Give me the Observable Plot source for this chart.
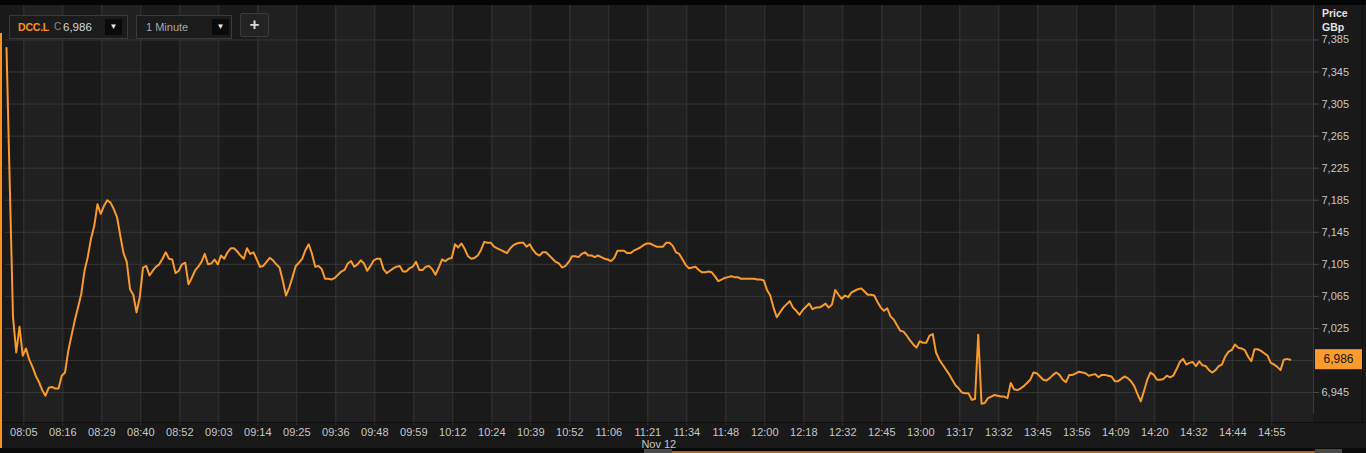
<!DOCTYPE html>
<html><head><meta charset="utf-8">
<script src="https://cdn.jsdelivr.net/npm/d3@7"></script>
<script src="https://cdn.jsdelivr.net/npm/@observablehq/plot@0.6"></script>
<style>
html,body{margin:0;padding:0;background:#0b0b0b;width:1366px;height:453px;overflow:hidden;}
#wrap{position:relative;width:1366px;height:453px;font-family:"Liberation Sans",Arial,sans-serif;}
#chart svg{display:block;}
.box{position:absolute;box-sizing:border-box;border:1px solid #3a3a3a;background:#1b1b1b;height:24px;top:15px;font-size:11px;line-height:22px;white-space:nowrap;}
.dd{position:absolute;top:3px;width:17px;height:16px;background:#0a0a0a;color:#e8e8e8;font-size:8px;line-height:16px;text-align:center;}
</style>
</head><body>
<div id="wrap">
  <div id="chart"></div>
  <div style="position:absolute;left:0;top:0;width:1366px;height:5px;background:#050505;"></div>
  <div style="position:absolute;left:0;top:33px;width:2px;height:420px;background:#f7931e;"></div>
  <div class="box" style="left:9px;width:119px;">
    <span style="position:absolute;left:8px;color:#f7931e;font-weight:bold;font-size:10.5px;letter-spacing:-0.2px;">DCC.L</span>
    <span style="position:absolute;left:44px;color:#8a8a8a;font-size:10px;">C</span>
    <span id="lastTxt" style="position:absolute;left:53px;color:#d6d6d6;font-size:11.5px;"></span>
    <div class="dd" style="left:95px;">&#9660;</div>
  </div>
  <div class="box" style="left:136px;width:96px;">
    <span style="position:absolute;left:9px;color:#a8a8a8;">1 Minute</span>
    <div class="dd" style="left:75px;">&#9660;</div>
  </div>
  <div class="box" style="left:240px;top:13px;width:29px;background:#232323;border-radius:2px;color:#d8d8d8;font-weight:bold;font-size:17px;text-align:center;line-height:21px;">+</div>
  <div style="position:absolute;left:1322px;top:6px;color:#e2e2e2;font-weight:bold;font-size:10.5px;line-height:14px;">Price<br>GBp</div>
  <div style="position:absolute;left:0;top:448px;width:1366px;height:5px;background:#0b0b0b;"></div>
  <div style="position:absolute;left:644px;top:449px;width:28px;height:4px;background:#4a4a4a;"></div>
  <div style="position:absolute;left:672px;top:451px;width:643px;height:2px;background:#a8651f;"></div>
  <div style="position:absolute;left:1315px;top:449px;width:27px;height:4px;background:#4a4a4a;"></div>
</div>
<script>
// ---- data ----
const timeLabels = ["08:05","08:16","08:29","08:40","08:52","09:03","09:14","09:25","09:36","09:48","09:59","10:12","10:24","10:39","10:52","11:06","11:21","11:34","11:48","12:00","12:18","12:32","12:45","13:00","13:17","13:32","13:45","13:56","14:09","14:20","14:32","14:44","14:55"];
const priceTicks = [6945,6985,7025,7065,7105,7145,7185,7225,7265,7305,7345,7385];
const dateLabel = "Nov 12";
const symbol = "DCC.L";
const prices = [
7375,7205,7039,6995,7027,6991,7000,6986,6977,6966,
6958,6948,6941,6951,6952,6950,6950,6966,6970,6997,
7016,7035,7051,7068,7097,7114,7137,7153,7180,7168,
7178,7185,7182,7174,7164,7141,7119,7108,7074,7067,
7045,7064,7101,7103,7091,7097,7102,7105,7112,7120,
7112,7111,7094,7097,7105,7107,7080,7088,7097,7102,
7108,7118,7105,7106,7111,7105,7116,7112,7120,7125,
7125,7121,7116,7112,7125,7118,7120,7111,7102,7103,
7108,7113,7110,7105,7101,7085,7066,7076,7089,7103,
7107,7112,7123,7130,7118,7102,7103,7099,7087,7087,
7086,7088,7092,7096,7098,7106,7109,7102,7105,7110,
7106,7097,7103,7110,7112,7112,7099,7094,7097,7100,
7102,7103,7096,7096,7100,7102,7108,7098,7098,7102,
7103,7099,7092,7101,7111,7109,7112,7113,7130,7126,
7131,7124,7115,7112,7113,7116,7123,7133,7132,7132,
7127,7125,7123,7121,7119,7125,7129,7131,7132,7132,
7127,7130,7123,7118,7116,7120,7120,7116,7112,7108,
7106,7101,7103,7108,7115,7115,7114,7118,7120,7116,
7116,7114,7116,7114,7112,7111,7109,7113,7122,7122,
7122,7119,7119,7122,7124,7126,7129,7131,7131,7129,
7127,7127,7127,7132,7132,7128,7120,7118,7111,7104,
7100,7101,7102,7098,7095,7095,7096,7095,7090,7084,
7086,7088,7089,7090,7089,7089,7087,7087,7087,7087,
7087,7086,7086,7085,7073,7066,7051,7039,7045,7051,
7055,7059,7051,7047,7042,7048,7052,7056,7049,7051,
7051,7053,7056,7051,7055,7073,7067,7062,7066,7064,
7070,7072,7074,7075,7071,7067,7067,7066,7058,7051,
7047,7050,7040,7036,7029,7022,7021,7016,7010,7005,
7001,7009,7007,7007,7016,7018,6995,6986,6980,6974,
6968,6961,6954,6950,6945,6944,6944,6936,6937,7017,
6931,6932,6938,6940,6942,6941,6940,6940,6938,6957,
6949,6948,6950,6953,6957,6961,6970,6969,6965,6961,
6960,6963,6967,6970,6967,6961,6958,6967,6967,6969,
6971,6970,6969,6966,6967,6968,6964,6967,6967,6966,
6965,6959,6959,6962,6965,6963,6959,6953,6943,6934,
6947,6961,6970,6967,6961,6961,6962,6966,6964,6966,
6974,6983,6987,6980,6982,6983,6978,6984,6979,6978,
6973,6970,6973,6978,6980,6990,6996,6998,7005,7001,
7000,6998,6990,6984,6999,6999,6997,6994,6991,6982,
6980,6977,6973,6986,6987,6986
];

const pointsPerTick = 12;
const firstTick = 5.32;
const tickIdx = timeLabels.map((_, k) => firstTick + pointsPerTick * k);
const labelOf = new Map(tickIdx.map((t, k) => [t, timeLabels[k]]));
const xDomain = [-0.31, 402.15];
const yDomain = [6907.6, 7428];
const rows = prices.map((v, i) => ({i, v}));
const last = prices[prices.length - 1];
const fmt = d3.format(",");
document.getElementById("lastTxt").textContent = fmt(last);
// labelled price ticks: the one hidden under the last-price tag is left unlabelled
const labelledTicks = priceTicks.filter(t => Math.abs(t - last) > 15);

const bounds = [xDomain[0], ...tickIdx, xDomain[1]];
const columns = d3.pairs(bounds).map(([a, b], k) => ({a, b, dark: k % 2 === 0}));

const chart = Plot.plot({
  width: 1366, height: 453,
  marginLeft: 5, marginRight: 53, marginTop: 5, marginBottom: 31,
  x: {domain: xDomain, axis: null},
  y: {domain: yDomain, axis: null},
  style: {background: "#191919", color: "#c6c6c6", fontFamily: "'Liberation Sans', Arial, sans-serif", fontSize: "11px"},
  marks: [
    Plot.rect(columns.filter(d => d.dark), {x1: "a", x2: "b", fill: "#1a1a1a"}),
    Plot.rect(columns.filter(d => !d.dark), {x1: "a", x2: "b", fill: "#202020"}),
    Plot.ruleX(tickIdx, {stroke: "#363636", strokeWidth: 1}),
    Plot.ruleY(priceTicks, {stroke: "#363636", strokeWidth: 1}),
    Plot.line(rows, {x: "i", y: "v", stroke: "#f89a2c", strokeWidth: 2, strokeLinejoin: "round"}),
    Plot.axisX({ticks: tickIdx, tickFormat: d => labelOf.get(d), tickSize: 3, tickPadding: 3, stroke: "#3a3a3a", fill: "#c6c6c6", label: null}),
    Plot.axisX({ticks: [tickIdx[16]], tickFormat: () => dateLabel, tickSize: 0, tickPadding: 18, dx: 11, fill: "#c6c6c6", label: null}),
    Plot.axisY({anchor: "right", ticks: labelledTicks, tickFormat: fmt, tickSize: 5, tickPadding: 3, stroke: "#4a4a4a", fill: "#c6c6c6", label: null})
  ]
});
document.getElementById("chart").appendChild(chart);

const xs = chart.scale("x"), ys = chart.scale("y");
const svg = d3.select(chart);
const [xL, xR] = xs.range;
const [yB, yT] = ys.range;
const g = svg.append("g");
g.append("line").attr("x1", xR + 0.5).attr("x2", xR + 0.5).attr("y1", yT).attr("y2", yB - 8).attr("stroke", "#3a3a3a");
g.append("line").attr("x1", 0).attr("x2", 1366).attr("y1", yB + 0.5).attr("y2", yB + 0.5).attr("stroke", "#0e0e0e");
g.append("line").attr("x1", 1362.5).attr("x2", 1362.5).attr("y1", yT).attr("y2", yB).attr("stroke", "#0e0e0e");
const yl = ys.apply(last);
g.append("rect").attr("x", xR + 2).attr("y", yl - 10).attr("width", 47).attr("height", 20).attr("fill", "#f99b2d");
g.append("text").attr("x", xR + 25.5).attr("y", yl).attr("dy", "0.35em").attr("text-anchor", "middle")
  .attr("fill", "#161616").attr("font-size", "12px").text(fmt(last));
</script>
</body></html>
